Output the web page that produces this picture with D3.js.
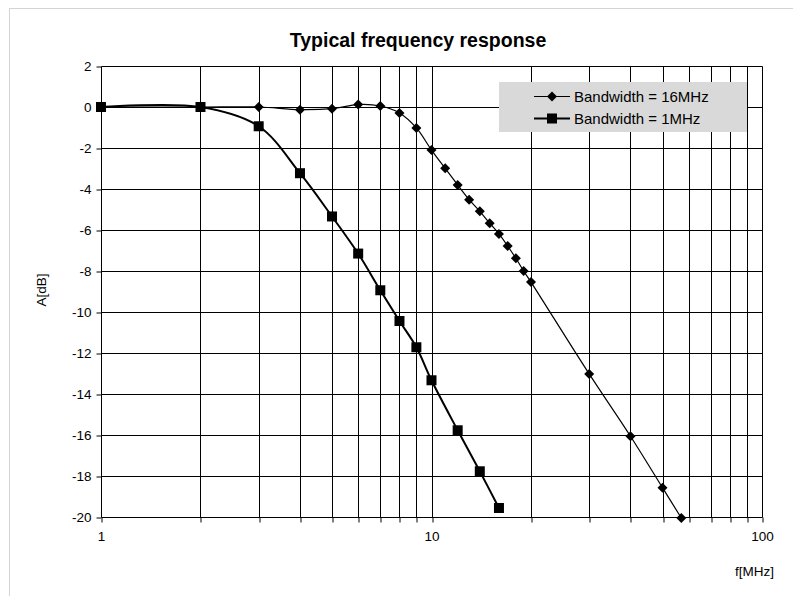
<!DOCTYPE html>
<html>
<head>
<meta charset="utf-8">
<script src="https://cdn.jsdelivr.net/npm/d3@7"></script>
<style>
  body { margin: 0; background: #fff; }
  text { font-family: "Liberation Sans", Arial, sans-serif; fill: #000; }
</style>
</head>
<body>
<div id="chart"></div>
<script>
// data
var freq16 = [1, 2, 3, 4, 5, 6, 7, 8, 9, 10, 11, 12, 13, 14, 15, 16, 17, 18, 19, 20, 30, 40, 50, 57];
var gain16 = [0, 0, 0, -0.13, -0.08, 0.12, 0.05, -0.29, -1.02, -2.1, -2.99, -3.8, -4.52, -5.09, -5.67, -6.19, -6.78, -7.38, -8.0, -8.54, -13.02, -16.06, -18.57, -20.05];
var freq1 = [1, 2, 3, 4, 5, 6, 7, 8, 9, 10, 12, 14, 16];
var gain1 = [0, 0, -0.94, -3.23, -5.34, -7.15, -8.94, -10.44, -11.72, -13.33, -15.77, -17.77, -19.56];
var seriesNames = ["Bandwidth = 16MHz", "Bandwidth = 1MHz"];
var xGrid = [1, 2, 3, 4, 5, 6, 7, 8, 9, 10, 20, 30, 40, 50, 60, 70, 80, 90, 100];
var xLabels = [1, 10, 100];
var yTicks = [-20, -18, -16, -14, -12, -10, -8, -6, -4, -2, 0, 2];

var svg = d3.select("#chart").append("svg")
    .attr("width", 793)
    .attr("height", 596);

// outer chart frame (only left/top visible)
svg.append("rect")
    .attr("x", 9.5).attr("y", 8.5)
    .attr("width", 900).attr("height", 700)
    .attr("fill", "none")
    .attr("stroke", "#d4d4d4");

var x = d3.scaleLog().domain([1, 100]).range([101, 762]);
var y = d3.scaleLinear().domain([-20, 2]).range([517, 66]);

function px(v) { return Math.round(v) + 0.5; }

var grid = svg.append("g");
grid.selectAll(".vg").data(xGrid).enter().append("line")
    .attr("x1", d => px(x(d))).attr("x2", d => px(x(d)))
    .attr("y1", px(y(2))).attr("y2", px(y(-20)))
    .attr("stroke", "#000").attr("stroke-width", 1);
grid.selectAll(".hg").data(yTicks).enter().append("line")
    .attr("x1", px(x(1))).attr("x2", px(x(100)))
    .attr("y1", d => px(y(d))).attr("y2", d => px(y(d)))
    .attr("stroke", "#000").attr("stroke-width", 1);

// axes
var xAxis = d3.axisBottom(x)
    .tickValues(xGrid)
    .tickSize(5)
    .tickPadding(9)
    .tickFormat(d => xLabels.indexOf(d) >= 0 ? d : "");
var gx = svg.append("g")
    .attr("transform", "translate(0," + px(y(-20)) + ")")
    .call(xAxis);
gx.select(".domain").remove();
gx.selectAll(".tick line").attr("stroke", "#000").attr("transform", function(d) {
  return "translate(" + (px(x(d)) - x(d)) + ",0)";
});
gx.selectAll("text").style("font-size", "13.5px");

var yAxis = d3.axisLeft(y)
    .tickValues(yTicks)
    .tickSize(5)
    .tickPadding(5)
    .tickFormat(d => String(d)); // plain hyphen minus like the original
var gy = svg.append("g")
    .attr("transform", "translate(" + px(x(1)) + ",0)")
    .call(yAxis);
gy.select(".domain").remove();
gy.selectAll(".tick line").attr("stroke", "#000").attr("transform", function(d) {
  return "translate(0," + (px(y(d)) - y(d)) + ")";
});
gy.selectAll("text").style("font-size", "13.5px");

// titles
svg.append("text")
    .attr("x", 418).attr("y", 47)
    .attr("text-anchor", "middle")
    .style("font-size", "19.5px").style("font-weight", "bold")
    .text("Typical frequency response");

svg.append("text")
    .attr("transform", "translate(46,290) rotate(-90)")
    .attr("text-anchor", "middle")
    .style("font-size", "13.5px")
    .text("A[dB]");

svg.append("text")
    .attr("x", 774).attr("y", 576)
    .attr("text-anchor", "end")
    .style("font-size", "13.5px")
    .text("f[MHz]");

// series
var line = d3.line()
    .x(d => x(d[0]))
    .y(d => y(d[1]))
    .curve(d3.curveCatmullRom.alpha(0.5));

var data16 = freq16.map((f, i) => [f, gain16[i]]);
var data1 = freq1.map((f, i) => [f, gain1[i]]);

var diamond = d3.symbol().type(d3.symbolDiamond2).size(64);

// legend box (drawn over the grid)
var leg = svg.append("g");
leg.append("rect")
    .attr("x", 499).attr("y", 82)
    .attr("width", 248).attr("height", 50)
    .attr("fill", "#d9d9d9");

svg.append("path")
    .datum(data16)
    .attr("d", line)
    .attr("fill", "none")
    .attr("stroke", "#000")
    .attr("stroke-width", 1.2);

svg.append("path")
    .datum(data1)
    .attr("d", line)
    .attr("fill", "none")
    .attr("stroke", "#000")
    .attr("stroke-width", 2);

svg.selectAll(".dia").data(data16).enter().append("path")
    .attr("d", diamond)
    .attr("transform", d => "translate(" + x(d[0]) + "," + y(d[1]) + ")")
    .attr("fill", "#000");

svg.selectAll(".sq").data(data1).enter().append("rect")
    .attr("x", d => x(d[0]) - 5).attr("y", d => y(d[1]) - 5)
    .attr("width", 10).attr("height", 10)
    .attr("fill", "#000");

// legend entries
var rows = [96, 118];
seriesNames.forEach(function(name, i) {
  var ly = rows[i] + 0.5;
  leg.append("line")
      .attr("x1", 534).attr("x2", 570)
      .attr("y1", ly).attr("y2", ly)
      .attr("stroke", "#000").attr("stroke-width", i == 0 ? 1.2 : 2);
  if (i == 0) {
    leg.append("path")
        .attr("d", diamond)
        .attr("transform", "translate(552," + ly + ")")
        .attr("fill", "#000");
  } else {
    leg.append("rect")
        .attr("x", 547).attr("y", ly - 5)
        .attr("width", 10).attr("height", 10)
        .attr("fill", "#000");
  }
  leg.append("text")
      .attr("x", 574).attr("y", rows[i] + 5.5)
      .style("font-size", "15px")
      .text(name);
});
</script>
</body>
</html>
